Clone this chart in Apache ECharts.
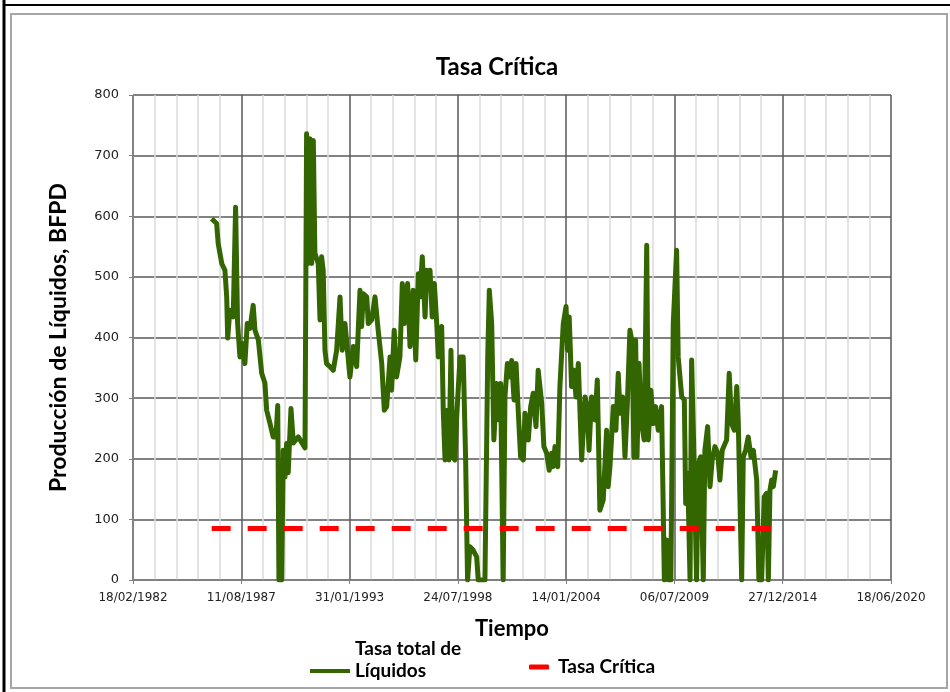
<!DOCTYPE html>
<html>
<head>
<meta charset="utf-8">
<script src="https://cdn.jsdelivr.net/npm/echarts@6/dist/echarts.min.js"></script>
<style>html,body{margin:0;padding:0;background:#fff}#c{width:950px;height:692px}</style>
</head>
<body>
<div id="c"></div>
<script>
// Fechas en año decimal, producción de líquidos (BFPD)
const anios = [
1986.11,1986.36,1986.44,1986.62,1986.78,1986.87,1986.92,1987.03,1987.20,1987.32,1987.42,1987.54,1987.66,1987.79,1987.91,
1988.05,1988.21,1988.30,1988.47,1988.64,1988.80,1988.89,1989.06,1989.22,1989.36,1989.45,1989.51,1989.65,1989.73,1989.82,1989.90,1989.98,
1990.12,1990.24,1990.49,1990.56,1990.83,1990.91,1990.99,1991.08,1991.17,1991.25,1991.33,1991.50,1991.59,1991.67,1991.75,1991.84,1991.92,
1992.09,1992.26,1992.43,1992.60,1992.71,1992.85,1993.10,1993.27,1993.44,1993.61,1993.69,1993.78,1993.95,
1994.03,1994.20,1994.37,1994.53,1994.71,1994.84,1994.96,1995.13,1995.21,1995.34,1995.46,1995.63,1995.75,1995.85,
1996.02,1996.14,1996.30,1996.43,1996.56,1996.64,1996.76,1996.90,1996.98,1997.06,1997.15,1997.26,1997.37,1997.49,1997.57,1997.74,1997.82,1997.91,
1998.04,1998.11,1998.21,1998.30,1998.41,1998.50,1998.67,1998.83,1998.95,1999.05,1999.17,1999.34,1999.51,1999.59,1999.93,
2000.07,2000.15,2000.27,2000.38,2000.52,2000.65,2000.72,2000.85,2000.94,2001.06,2001.19,2001.28,2001.40,2001.50,2001.61,2001.73,2001.87,2001.95,
2002.12,2002.24,2002.37,2002.51,2002.62,2002.80,2002.91,2003.05,2003.18,2003.30,2003.38,2003.47,2003.61,2003.72,2003.89,
2004.03,2004.11,2004.19,2004.31,2004.43,2004.53,2004.65,2004.82,2004.99,2005.10,2005.19,2005.32,2005.49,2005.61,2005.74,2005.91,
2006.08,2006.16,2006.25,2006.42,2006.55,2006.67,2006.76,2006.89,2007.01,2007.13,2007.26,2007.38,2007.46,2007.55,2007.62,2007.72,2007.85,2007.98,
2008.11,2008.19,2008.32,2008.44,2008.56,2008.69,2008.86,2009.00,2009.12,2009.20,2009.33,2009.45,2009.62,2009.70,2009.88,
2010.01,2010.08,2010.18,2010.30,2010.38,2010.51,2010.63,2010.72,2010.84,2010.97,2011.05,2011.19,2011.31,2011.42,2011.56,2011.70,2011.81,2011.93,
2012.07,2012.15,2012.28,2012.40,2012.54,2012.66,2012.74,2012.91,2012.99,2013.11,2013.24,2013.38,2013.50,2013.67,2013.78,2013.92,
2014.05,2014.17,2014.26,2014.34,2014.43,2014.51,2014.63
];
const tasaLiquidos = [
596,588,555,522,511,467,399,445,434,615,424,368,390,357,423,
415,453,412,396,341,325,280,258,236,236,288,0,0,214,170,225,177,
283,226,236,233,218,736,522,728,522,725,539,522,429,533,511,379,357,
352,346,379,467,379,423,335,385,352,478,418,472,467,
423,429,467,412,357,280,286,368,313,412,335,368,489,423,
489,385,478,363,505,467,533,434,511,489,511,434,489,423,368,418,280,198,
280,198,379,203,198,269,368,368,203,0,55,49,38,0,0,
368,478,423,231,324,264,324,0,302,357,335,362,297,357,280,203,198,275,
231,286,308,253,346,291,220,209,181,209,187,220,187,319,423,
451,379,434,319,346,302,357,198,302,286,214,302,264,330,115,132,
247,154,187,286,247,341,275,302,203,291,412,390,203,396,203,357,258,231,
552,231,313,258,286,247,286,0,66,0,0,423,544,368,302,
297,126,176,0,363,187,0,192,203,0,214,253,154,198,220,209,165,214,
225,231,341,258,247,319,258,0,203,214,236,203,214,165,0,0,
137,143,0,148,165,154,181
];
const tasaCritica = 85;
const periodoCritica = [1986.11, 2014.63];
const nombreSerie1 = 'Tasa total de Líquidos';
const nombreSerie2 = 'Tasa Crítica';

// conversión año decimal -> número de serie de fecha (días desde 30/12/1899)
const BASE = Date.UTC(1899, 11, 30);
function anioASerial(a) {
  const y = Math.floor(a);
  const s = Date.UTC(y, 0, 1), e = Date.UTC(y + 1, 0, 1);
  return (s + (a - y) * (e - s) - BASE) / 86400000;
}
function serialAFecha(v) {
  const d = new Date(BASE + Math.round(v) * 86400000);
  const p = n => (n < 10 ? '0' : '') + n;
  return p(d.getUTCDate()) + '/' + p(d.getUTCMonth() + 1) + '/' + d.getUTCFullYear();
}

const datos1 = anios.map((a, i) => [anioASerial(a), tasaLiquidos[i]]);
const datos2 = periodoCritica.map(a => [anioASerial(a), tasaCritica]);

const chart = echarts.init(document.getElementById('c'), null, {renderer: 'canvas'});
const titleFont = 'Lato, "Open Sans", sans-serif';
chart.setOption({
  animation: false,
  backgroundColor: '#fff',
  title: {
    text: 'Tasa Crítica', left: 492, top: 50, textAlign: 'center',
    textStyle: {fontFamily: titleFont, fontWeight: 'bold', fontSize: 24, color: '#000'}
  },
  graphic: [
    {type: 'line', shape: {x1: 4, y1: 0, x2: 4, y2: 692}, style: {stroke: '#000', lineWidth: 3}},
    {type: 'line', shape: {x1: 4, y1: 5, x2: 950, y2: 5}, style: {stroke: '#000', lineWidth: 2}},
    {type: 'rect', shape: {x: 11, y: 14, width: 936, height: 674}, style: {fill: 'none', stroke: '#a6a6a6', lineWidth: 2}}
  ],
  legend: [
    {
      data: [nombreSerie1], left: 310, top: 638, padding: 0,
      icon: 'rect', itemWidth: 40, itemHeight: 4,
      formatter: () => 'Tasa total de\nLíquidos\n\u00a0',
      textStyle: {fontFamily: titleFont, fontWeight: 'bold', fontSize: 19, color: '#000', lineHeight: 22}
    },
    {
      data: [nombreSerie2], left: 529, top: 656, padding: 0,
      icon: 'roundRect', itemWidth: 20, itemHeight: 5,
      textStyle: {fontFamily: titleFont, fontWeight: 'bold', fontSize: 19, color: '#000', lineHeight: 22, padding: [0, 0, 0, 4]}
    }
  ],
  grid: {left: 133, right: 59, top: 95, bottom: 112, containLabel: false},
  xAxis: {
    type: 'value', min: 30000, max: 44000, interval: 2000,
    name: 'Tiempo', nameLocation: 'middle', nameGap: 38,
    nameTextStyle: {fontFamily: titleFont, fontWeight: 'bold', fontSize: 22, color: '#000'},
    axisLine: {show: true, lineStyle: {color: '#808080', width: 1.5}},
    axisTick: {show: true, length: 4, lineStyle: {color: '#808080'}},
    axisLabel: {formatter: serialAFecha, fontFamily: 'DejaVu Sans', fontSize: 12, color: '#222', margin: 12},
    splitLine: {show: true, lineStyle: {color: '#595959', width: 1.5}},
    minorTick: {show: false, splitNumber: 5},
    minorSplitLine: {show: true, lineStyle: {color: '#dcdcdc', width: 1.5}}
  },
  yAxis: {
    type: 'value', min: 0, max: 800, interval: 100,
    name: 'Producción de Líquidos, BFPD', nameLocation: 'middle', nameGap: 63,
    nameTextStyle: {fontFamily: titleFont, fontWeight: 'bold', fontSize: 23, color: '#000'},
    axisLine: {show: true, lineStyle: {color: '#6d9a45', width: 1}},
    axisTick: {show: true, length: 4, lineStyle: {color: '#808080'}},
    axisLabel: {fontFamily: 'DejaVu Sans', fontSize: 13, color: '#222', margin: 14},
    splitLine: {show: true, lineStyle: {color: '#595959', width: 1.5}}
  },
  series: [
    {
      name: nombreSerie1, type: 'line', data: datos1, showSymbol: false, symbol: 'none',
      lineStyle: {color: '#336600', width: 5, join: 'round'}, itemStyle: {color: '#336600'}, z: 3
    },
    {
      name: nombreSerie2, type: 'line', data: datos2, showSymbol: false, symbol: 'none',
      lineStyle: {color: '#ff0000', width: 5, type: [19, 17]}, itemStyle: {color: '#ff0000'}, z: 4
    }
  ]
});
</script>
</body>
</html>
